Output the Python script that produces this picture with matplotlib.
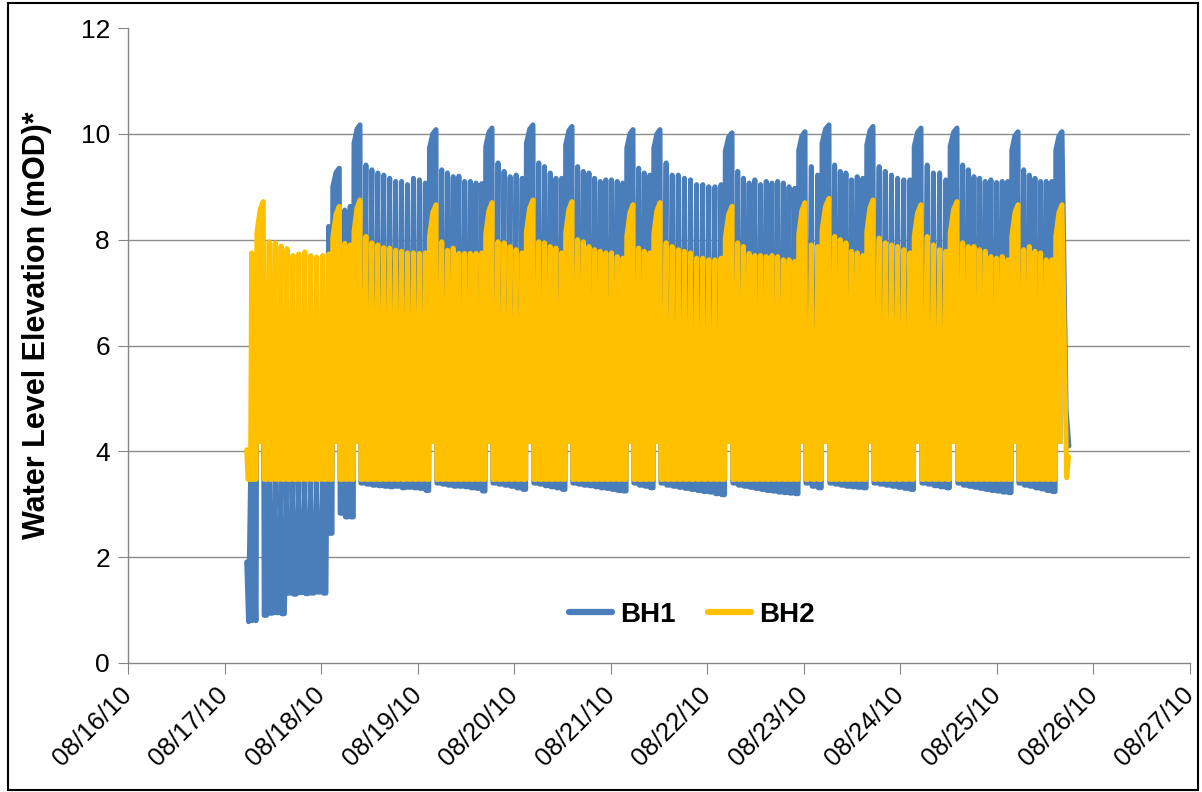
import numpy as np
import matplotlib
matplotlib.use('Agg')
import matplotlib.pyplot as plt
import matplotlib.dates as mdates
from matplotlib.patches import Rectangle
from datetime import datetime

plt.rcParams['font.family'] = ['Liberation Sans', 'DejaVu Sans']

START = datetime(2010, 8, 16)

## DATA (hours after 08/16/10 00:00, water level in mOD)

# long pump-off recoveries (the tall spikes)
big_hours = [33.63, 52.53, 57.67, 76.57, 90.49, 100.68, 110.37, 125.54, 132.25,
             150.15, 168.30, 174.26, 185.20, 197.13, 206.08, 221.25, 232.18]
big_bh1 = [7.49, 9.35, 10.17, 10.08, 10.11, 10.17, 10.14, 10.08, 10.08,
           10.02, 10.04, 10.17, 10.14, 10.11, 10.11, 10.04, 10.04]
big_bh2 = [8.72, 8.63, 8.75, 8.66, 8.70, 8.75, 8.72, 8.66, 8.70,
           8.63, 8.70, 8.78, 8.75, 8.66, 8.72, 8.66, 8.66]

# short pumping cycles between two long recoveries: peak levels
small_bh1 = [
    [3.43, 3.43, 3.43, 3.43, 3.43, 3.43, 3.43, 3.43, 3.43, 3.43, 8.25],
    [8.56, 8.63],
    [9.41, 9.32, 9.26, 9.22, 9.16, 9.10, 9.10, 9.04, 9.16, 9.13, 9.07],
    [9.32, 9.26, 9.19, 9.20, 9.10, 9.10, 9.07, 9.06],
    [9.45, 9.29, 9.19, 9.22, 9.16],
    [9.45, 9.38, 9.26, 9.16, 9.16],
    [9.38, 9.29, 9.26, 9.16, 9.10, 9.13, 9.13, 9.10, 9.07],
    [9.35, 9.26, 9.22],
    [9.45, 9.22, 9.22, 9.16, 9.13, 9.04, 9.04, 9.00, 9.00, 9.04],
    [9.29, 9.16, 9.07, 9.13, 9.04, 9.10, 9.07, 9.10, 9.07, 9.00, 8.97],
    [9.38, 9.22],
    [9.41, 9.29, 9.26, 9.13, 9.19, 9.16],
    [9.38, 9.29, 9.22, 9.16, 9.13, 9.13],
    [9.41, 9.26, 9.26, 9.13],
    [9.41, 9.32, 9.19, 9.16, 9.10, 9.13, 9.08, 9.10, 9.10],
    [9.32, 9.22, 9.16, 9.10, 9.10, 9.10],
]
small_bh2 = [
    [7.96, 7.94, 7.88, 7.83, 7.70, 7.73, 7.77, 7.70, 7.67, 7.70, 7.73],
    [7.93, 7.90],
    [8.06, 7.94, 7.90, 7.85, 7.84, 7.80, 7.78, 7.75, 7.75, 7.74, 7.75],
    [7.96, 7.80, 7.84, 7.74, 7.74, 7.74, 7.74, 7.75],
    [7.96, 7.94, 7.87, 7.81, 7.75],
    [7.96, 7.94, 7.87, 7.84, 7.75],
    [8.00, 7.96, 7.87, 7.81, 7.78, 7.75, 7.75, 7.68, 7.65],
    [7.84, 7.78, 7.75],
    [7.94, 7.87, 7.81, 7.78, 7.75, 7.65, 7.65, 7.62, 7.62, 7.65],
    [7.94, 7.87, 7.74, 7.70, 7.70, 7.68, 7.70, 7.68, 7.62, 7.62, 7.59],
    [7.90, 7.87],
    [8.06, 8.00, 7.94, 7.78, 7.75, 7.70],
    [8.03, 7.94, 7.90, 7.87, 7.81, 7.75],
    [8.06, 7.90, 7.81, 7.78],
    [7.94, 7.87, 7.87, 7.81, 7.78, 7.68, 7.65, 7.68, 7.62],
    [7.81, 7.87, 7.78, 7.75, 7.62, 7.62],
]
# BH1 pumping levels (one after each peak of the segment, long recovery first)
trough_bh1 = [
    [0.90, 0.94, 0.95, 0.93, 1.32, 1.30, 1.33, 1.31, 1.32, 1.34, 1.32, 2.45],
    [2.83, 2.76, 2.76],
    [3.40, 3.38, 3.36, 3.35, 3.34, 3.33, 3.34, 3.31, 3.32, 3.31, 3.30, 3.26],
    [3.40, 3.38, 3.36, 3.34, 3.34, 3.33, 3.31, 3.30, 3.25],
    [3.40, 3.38, 3.36, 3.34, 3.31, 3.28],
    [3.40, 3.38, 3.35, 3.33, 3.31, 3.28],
    [3.40, 3.38, 3.36, 3.35, 3.33, 3.31, 3.30, 3.28, 3.26, 3.25],
    [3.40, 3.36, 3.34, 3.31],
    [3.40, 3.36, 3.34, 3.32, 3.30, 3.28, 3.26, 3.24, 3.23, 3.20, 3.18],
    [3.40, 3.36, 3.34, 3.32, 3.30, 3.28, 3.26, 3.25, 3.23, 3.22, 3.21, 3.20],
    [3.40, 3.34, 3.31],
    [3.40, 3.38, 3.36, 3.34, 3.33, 3.32, 3.31],
    [3.40, 3.38, 3.36, 3.34, 3.32, 3.30, 3.28],
    [3.40, 3.38, 3.35, 3.33, 3.31],
    [3.40, 3.36, 3.34, 3.32, 3.30, 3.28, 3.26, 3.25, 3.23, 3.22],
    [3.40, 3.36, 3.34, 3.31, 3.29, 3.26, 3.24],
]
BH2_TROUGH = 3.47

# start and end of the record
lead_hours_bh1 = [29.51, 29.96, 30.45, 30.83, 31.30, 31.75]
lead_bh1 = [1.91, 0.78, 3.43, 0.80, 3.43, 0.80]
lead_hours_bh2 = [29.51, 29.83, 30.45, 30.75, 31.07, 31.70]
lead_bh2 = [4.03, 3.47, 3.47, 7.75, 3.47, 3.47]
tail_hours_bh1 = [233.2, 233.9]
tail_bh1 = [4.80, 4.10]
tail_hours_bh2 = [233.35, 233.8]
tail_bh2 = [3.50, 3.90]

BLUE = '#4a7ebb'
YELLOW = '#ffc000'


def build(lead_t, lead_v, bigs, smalls, troughs, tail_t, tail_v, k1, k2):
    t = list(lead_t)
    v = list(lead_v)
    fills = []
    prev_s = 1.45
    last = len(big_hours) - 1
    for i, tb in enumerate(big_hours):
        pk = bigs[i]
        # long recovery out of the last pumping level
        ts = [tb - 1.1 * prev_s, tb - 0.55 * prev_s, tb]
        vs = [pk - k1, pk - k2, pk]
        t += [tb - 1.22 * prev_s] + ts
        v += [v[-1]] + vs
        fills.append((ts, vs))
        if i == last:
            break
        n = len(smalls[i])
        s = (big_hours[i + 1] - tb) / (n + 1.8)
        tr = troughs[i] if isinstance(troughs, list) else [troughs] * (n + 1)
        t += [tb + 0.15 * s, tb + 0.55 * s]
        v += [tr[0], tr[0]]
        for k in range(n):
            tp = tb + (k + 1) * s
            t += [tp, tp + 0.12 * s, tp + 0.55 * s]
            v += [smalls[i][k], tr[k + 1], tr[k + 1]]
        prev_s = s
    t += list(tail_t)
    v += list(tail_v)
    return np.array(t), np.array(v), fills


d0 = mdates.date2num(START)

t1, v1, f1 = build(lead_hours_bh1, lead_bh1, big_bh1, small_bh1, trough_bh1,
                   tail_hours_bh1, tail_bh1, 0.35, 0.08)
t2, v2, f2 = build(lead_hours_bh2, lead_bh2, big_bh2, small_bh2, BH2_TROUGH,
                   tail_hours_bh2, tail_bh2, 0.6, 0.15)

fig = plt.figure(figsize=(12.02, 7.92), dpi=100)
ax = fig.add_axes([128 / 1202, 1 - 663 / 792, 1062 / 1202, 635 / 792])

lw = 3.6
ax.plot(d0 + t1 / 24, v1, color=BLUE, lw=lw, solid_joinstyle='round',
        solid_capstyle='round', label='BH1', zorder=3)
for ft, fv in f1:
    ax.fill_between(d0 + np.array(ft) / 24, 4.15, fv, color=BLUE, lw=0, zorder=3)
ax.plot(d0 + t2 / 24, v2, color=YELLOW, lw=lw, solid_joinstyle='round',
        solid_capstyle='round', label='BH2', zorder=4)
for ft, fv in f2:
    ax.fill_between(d0 + np.array(ft) / 24, 4.15, fv, color=YELLOW, lw=0, zorder=4)

ax.set_xlim(d0, d0 + 11)
ax.set_ylim(0, 12)
ax.set_yticks(range(0, 13, 2))
ax.xaxis.set_major_locator(mdates.DayLocator())
ax.xaxis.set_major_formatter(mdates.DateFormatter('%m/%d/%y'))

for y in range(2, 12, 2):
    ax.axhline(y, color='#8c8c8c', lw=1, zorder=1)

for side in ['top', 'right']:
    ax.spines[side].set_visible(False)
for side in ['left', 'bottom']:
    ax.spines[side].set_color('#868686')
    ax.spines[side].set_linewidth(1)

ax.tick_params(axis='y', direction='out', length=7, color='#868686', labelsize=19, pad=6)
ax.tick_params(axis='x', direction='out', length=8, color='#868686', labelsize=18.5, pad=12)
for lbl in ax.get_xticklabels():
    lbl.set_rotation(45)
    lbl.set_ha('right')
    lbl.set_va('center')
    lbl.set_rotation_mode('anchor')

ax.set_ylabel('Water Level Elevation (mOD)*', fontsize=22, fontweight='bold')
ax.yaxis.set_label_coords(-0.0716, 0.532)

leg = ax.legend(loc='center', bbox_to_anchor=(0.531, 0.076), ncol=2, frameon=False,
                handlelength=1.55, columnspacing=1.15, handletextpad=0.3,
                prop={'size': 20, 'weight': 'bold'})
for line in leg.get_lines():
    line.set_linewidth(4.5)
    line.set_solid_capstyle('round')

fig.patches.append(Rectangle((8 / 1202, 2 / 792), 1190 / 1202, 787 / 792,
                             transform=fig.transFigure, fill=False,
                             edgecolor='black', lw=1.5))

fig.savefig('out.png', dpi=100)
